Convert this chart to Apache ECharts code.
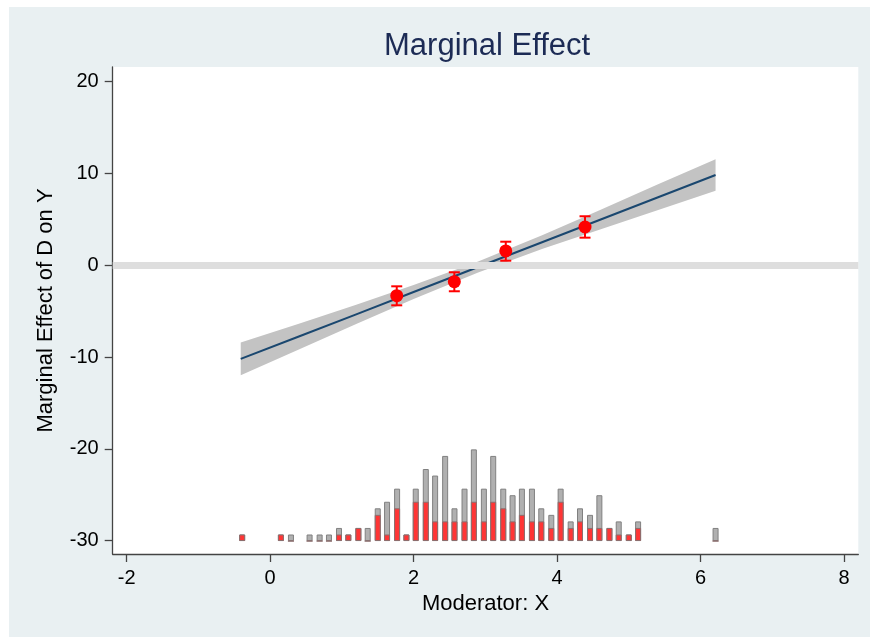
<!DOCTYPE html>
<html>
<head>
<meta charset="utf-8">
<script src="https://cdn.jsdelivr.net/npm/echarts@6/dist/echarts.min.js"></script>
<style>
html,body{margin:0;padding:0;background:#ffffff;}
#chart{width:870px;height:637px;}
</style>
</head>
<body>
<div id="chart"></div>
<script>
// ---- data ----
var xTicks = [-2, 0, 2, 4, 6, 8];
var yTicks = [-30, -20, -10, 0, 10, 20];

// fitted marginal effect line and confidence band
var bandX     = [-0.41, 0.4, 1.2, 2.0, 2.9, 3.8, 4.6, 5.4, 6.21];
var lineY     = [-10.2, -7.76, -5.34, -2.91, -0.19, 2.54, 4.96, 7.39, 9.84];
var bandLower = [-11.98, -9.16, -6.39, -3.66, -0.79, 1.79, 3.91, 5.99, 8.12];
var bandUpper = [-8.42, -6.36, -4.29, -2.16, 0.41, 3.29, 6.01, 8.79, 11.56];

// binned estimates
var binX  = [1.765, 2.568, 3.285, 4.39];
var binY  = [-3.31, -1.79, 1.56, 4.17];
var binLo = [-4.36, -2.83, 0.50, 3.01];
var binHi = [-2.29, -0.76, 2.57, 5.34];

// histogram of moderator (total vs treated)
var histX = [-0.39, 0.15, 0.29, 0.55, 0.69, 0.82, 0.96, 1.09, 1.23, 1.36, 1.50, 1.63, 1.77, 1.90,
             2.03, 2.17, 2.30, 2.44, 2.57, 2.71, 2.84, 2.98, 3.11, 3.25, 3.38, 3.51, 3.65, 3.78,
             3.92, 4.05, 4.19, 4.32, 4.46, 4.59, 4.73, 4.86, 5.00, 5.13, 6.21];
var histTotal   = [1, 1, 1, 1, 1, 1, 2, 1, 2, 2, 5, 6, 8, 1,
                   8, 11, 10, 13, 5, 8, 14, 8, 13, 8, 7, 8, 8, 5,
                   4, 8, 3, 5, 4, 7, 2, 3, 1, 3, 2];
var histTreated = [1, 1, 0, 0, 0, 0, 1, 1, 2, 0, 4, 1, 5, 1,
                   6, 6, 3, 3, 3, 3, 6, 3, 6, 5, 3, 4, 3, 3,
                   2, 6, 2, 3, 2, 2, 2, 1, 1, 2, 0];

// ---- chart ----
var FONT = 'Liberation Sans, Arial, Helvetica, sans-serif';
var chart = echarts.init(document.getElementById('chart'), null, {renderer: 'canvas'});

function pairs(xs, ys) { return xs.map(function (x, i) { return [x, ys[i]]; }); }

var option = {
  backgroundColor: '#ffffff',
  animation: false,
  graphic: [{
    type: 'rect', z: -100, silent: true,
    shape: {x: 9, y: 7, width: 861, height: 630},
    style: {fill: '#e9f0f2'}
  }],
  title: {
    text: 'Marginal Effect',
    left: 384, top: 31,
    padding: 0,
    textStyle: {fontFamily: FONT, fontSize: 31, fontWeight: 'normal', color: '#1c2b55'}
  },
  grid: {
    left: 112.7, right: 11.7, top: 67, bottom: 83,
    show: true, backgroundColor: '#ffffff', borderWidth: 0
  },
  xAxis: {
    type: 'value', min: -2.195, max: 8.2,
    name: 'Moderator: X', nameLocation: 'middle', nameGap: 38,
    nameTextStyle: {fontFamily: FONT, fontSize: 22, color: '#000'},
    axisLine: {show: true, onZero: false, lineStyle: {color: '#444', width: 1.3}},
    axisTick: {show: true, length: 8, customValues: xTicks, lineStyle: {color: '#444', width: 1.3}},
    axisLabel: {customValues: xTicks, margin: 14, fontFamily: FONT, fontSize: 20, color: '#000'},
    splitLine: {show: false}
  },
  yAxis: [{
    type: 'value', min: -31.45, max: 21.6,
    name: 'Marginal Effect of D on Y', nameLocation: 'middle', nameGap: 56, nameRotate: 90,
    nameTextStyle: {fontFamily: FONT, fontSize: 22, color: '#000'},
    axisLine: {show: true, onZero: false, lineStyle: {color: '#444', width: 1.3}},
    axisTick: {show: true, length: 8, customValues: yTicks, lineStyle: {color: '#444', width: 1.3}},
    axisLabel: {customValues: yTicks, margin: 14, fontFamily: FONT, fontSize: 20, color: '#000'},
    splitLine: {show: false}
  }, {
    type: 'value', min: -1.98, max: 72.4, show: false, splitLine: {show: false}
  }],
  series: [
    {
      type: 'line', data: [], z: 1, silent: true,
      markLine: {
        silent: true, symbol: 'none', animation: false,
        label: {show: false},
        lineStyle: {color: '#dedede', width: 7, type: 'solid'},
        emphasis: {disabled: true},
        data: [{yAxis: 0}]
      }
    },
    {
      type: 'bar', yAxisIndex: 1, z: 2, barWidth: 6, barGap: '-100%',
      data: pairs(histX, histTotal),
      itemStyle: {color: '#b0b0b0', borderColor: '#808080', borderWidth: 1}
    },
    {
      type: 'bar', yAxisIndex: 1, z: 3, barWidth: 6, barGap: '-100%',
      data: pairs(histX, histTreated),
      itemStyle: {color: '#ff3535', borderColor: '#8c6e6e', borderWidth: 1}
    },
    {
      type: 'custom', z: 3, silent: true,
      data: bandX.map(function (x, i) { return [x, bandLower[i], bandUpper[i]]; }),
      encode: {x: 0, y: [1, 2]},
      renderItem: function (params, api) {
        if (params.dataIndex !== 0) return null;
        var pts = [];
        for (var i = 0; i < bandX.length; i++) pts.push(api.coord([bandX[i], bandUpper[i]]));
        for (var j = bandX.length - 1; j >= 0; j--) pts.push(api.coord([bandX[j], bandLower[j]]));
        return {type: 'polygon', shape: {points: pts}, style: {fill: '#c3c3c3', stroke: null}};
      }
    },
    {
      type: 'line', z: 4, data: pairs(bandX, lineY), symbol: 'none', smooth: false,
      lineStyle: {color: '#1a476f', width: 2}
    },
    {
      type: 'custom', z: 5, silent: true,
      data: binX.map(function (x, i) { return [x, binLo[i], binHi[i]]; }),
      encode: {x: 0, y: [1, 2]},
      renderItem: function (params, api) {
        var lo = api.coord([api.value(0), api.value(1)]);
        var hi = api.coord([api.value(0), api.value(2)]);
        var w = 5.5;
        var st = {stroke: '#ff0000', lineWidth: 2, fill: null};
        return {type: 'group', children: [
          {type: 'line', shape: {x1: lo[0], y1: lo[1], x2: hi[0], y2: hi[1]}, style: st},
          {type: 'line', shape: {x1: lo[0] - w, y1: lo[1], x2: lo[0] + w, y2: lo[1]}, style: st},
          {type: 'line', shape: {x1: hi[0] - w, y1: hi[1], x2: hi[0] + w, y2: hi[1]}, style: st}
        ]};
      }
    },
    {
      type: 'scatter', z: 6, data: pairs(binX, binY), symbol: 'circle', symbolSize: 13,
      itemStyle: {color: '#ff0000', opacity: 1}
    }
  ]
};
chart.setOption(option);
</script>
</body>
</html>
